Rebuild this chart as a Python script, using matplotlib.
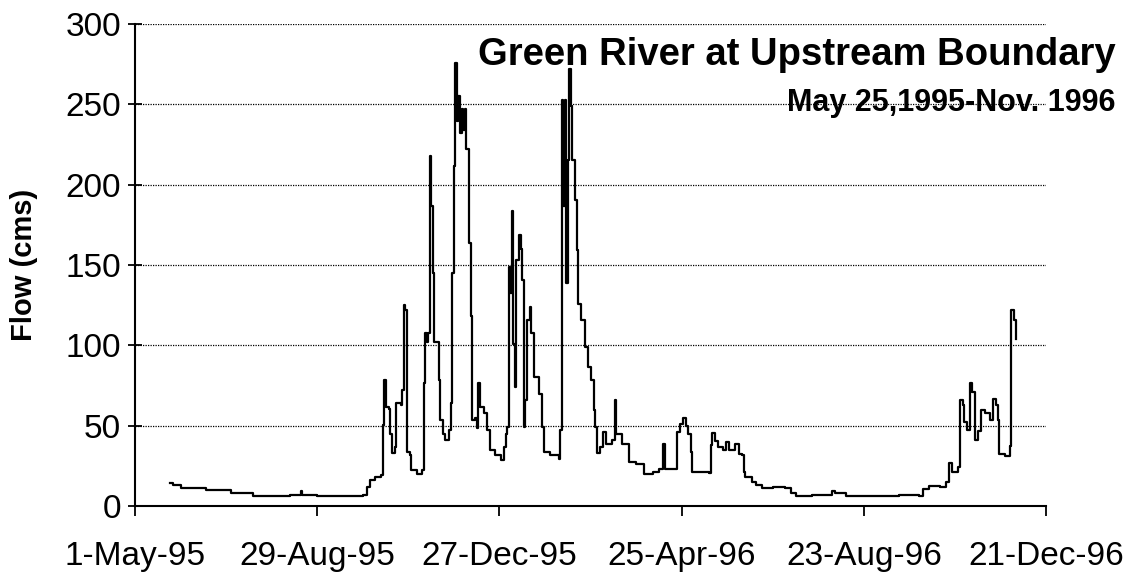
import matplotlib
matplotlib.use("Agg")
import matplotlib.pyplot as plt
import pandas as pd

plt.rcParams["font.family"] = ["Liberation Sans", "DejaVu Sans"]

# daily flow record (days after 1-May-1995, flow in cms)
record_day = [
    23, 25, 30, 47, 63, 78, 102, 109, 110, 120, 150, 153, 155, 158, 162,
    163, 164, 165, 167, 168, 169, 171, 172, 175, 176, 177, 178, 179, 181, 182,
    186, 189, 190, 191, 192, 193, 194, 195, 196, 197, 200, 201, 203, 204, 207,
    208, 209, 210, 211, 212, 213, 214, 215, 216, 217, 218, 220, 221, 222, 224,
    225, 226, 227, 230, 232, 234, 237, 241, 243, 244, 245, 246, 247, 248, 249,
    250, 251, 253, 254, 255, 256, 257, 258, 260, 261, 263, 266, 268, 269, 273,
    279, 280, 281, 282, 283, 284, 285, 286, 287, 288, 290, 291, 292, 294, 296,
    298, 300, 302, 303, 304, 306, 308, 310, 314, 316, 317, 321, 325, 330, 335,
    341, 345, 348, 349, 355, 357, 359, 361, 363, 364, 366, 367, 378, 379, 380,
    382, 384, 387, 389, 391, 395, 398, 400, 401, 402, 406, 409, 413, 420, 428,
    432, 435, 446, 459, 461, 468, 486, 503, 516, 519, 523, 530, 534, 536, 538,
    542, 543, 545, 546, 548, 550, 551, 553, 555, 557, 560, 563, 565, 567, 568,
    569, 573, 576, 577, 579, 580,
]
flow_cms = [
    14.6, 13.0, 11.4, 10.2, 8.1, 6.4, 6.9, 9.4, 7.0, 6.2, 7.1, 11.9, 16.0, 18.0, 19.0,
    50.3, 78.4, 61.8, 60.7, 45.0, 32.7, 36.8, 63.9, 62.8, 72.2, 125.0, 122.0, 33.7, 31.6, 22.3,
    20.2, 22.3, 76.3, 107.5, 102.0, 107.5, 217.8, 186.6, 145.0, 102.0, 78.4, 53.5, 45.0, 41.0, 47.2,
    63.9, 145.0, 211.6, 276.0, 240.0, 255.0, 232.0, 247.0, 234.0, 247.0, 222.0, 163.7, 118.0, 53.5, 54.5,
    48.3, 76.3, 61.8, 57.6, 47.2, 34.7, 31.6, 28.5, 36.8, 45.0, 49.3, 149.0, 132.5, 183.5, 101.0,
    74.3, 153.0, 169.0, 160.0, 141.0, 49.3, 66.0, 116.0, 124.0, 107.5, 80.5, 70.0, 49.3, 33.7, 31.6,
    29.5, 47.2, 253.0, 186.6, 253.0, 138.8, 215.7, 272.0, 249.0, 215.7, 190.8, 159.6, 126.0, 116.0, 99.2,
    86.7, 78.4, 60.0, 49.3, 32.7, 36.8, 46.2, 38.9, 41.0, 66.0, 45.0, 38.9, 27.5, 26.4, 20.2,
    21.2, 23.3, 38.3, 23.3, 23.3, 45.9, 51.0, 55.0, 50.0, 44.9, 33.5, 21.2, 20.6, 37.7, 45.3,
    40.7, 36.6, 34.6, 39.7, 34.6, 38.7, 32.5, 31.5, 21.2, 18.1, 15.0, 13.0, 11.5, 11.9, 10.9,
    8.2, 6.4, 6.8, 9.5, 8.2, 6.4, 6.4, 6.8, 6.3, 10.6, 12.7, 11.7, 14.7, 27.0, 20.9,
    24.3, 65.8, 62.8, 52.6, 47.4, 76.7, 71.0, 41.3, 46.4, 59.7, 57.7, 53.6, 66.9, 62.8, 53.6,
    32.1, 31.1, 37.2, 122.0, 116.0, 103.7,
]

tick_dates = ["1995-05-01", "1995-08-29", "1995-12-27", "1996-04-25", "1996-08-23", "1996-12-21"]
y_ticks = [0, 50, 100, 150, 200, 250, 300]

start = pd.Timestamp("1995-05-01")
dates = start + pd.to_timedelta(record_day, unit="D")
ticks = pd.to_datetime(tick_dates)

fig = plt.figure(figsize=(11.29, 5.75), dpi=100)
ax = fig.add_axes([0.1196, 0.12, 0.807, 0.838])

for y in y_ticks[1:]:
    ax.axhline(y, color="black", lw=0.9, ls=(0, (1, 1)), zorder=1)

# daily values -> step look like the original
ax.plot(dates, flow_cms, color="black", lw=1.6, drawstyle="steps-post", zorder=3)

ax.set_xlim(ticks[0], ticks[-1])
ax.set_ylim(0, 300)
ax.set_xticks(ticks)
ax.set_xticklabels([f"{d.day}-{d:%b-%y}" for d in ticks])
ax.set_yticks(y_ticks)

ax.spines["top"].set_visible(False)
ax.spines["right"].set_visible(False)
ax.spines["left"].set_linewidth(1.5)
ax.spines["bottom"].set_linewidth(1.5)
ax.tick_params(axis="y", direction="inout", length=10, width=1.3, labelsize=24, pad=5)
ax.tick_params(axis="x", direction="out", length=7, width=1.3, labelsize=24, pad=18)

ax.set_ylabel("Flow (cms)", fontsize=21, fontweight="bold", labelpad=20)

fig.text(0.988, 0.905, "Green River at Upstream Boundary", ha="right", va="center",
         fontsize=27.5, fontweight="bold")
fig.text(0.988, 0.82, "May 25,1995-Nov. 1996", ha="right", va="center",
         fontsize=22, fontweight="bold")

fig.savefig("out.png", dpi=100, facecolor="white")
